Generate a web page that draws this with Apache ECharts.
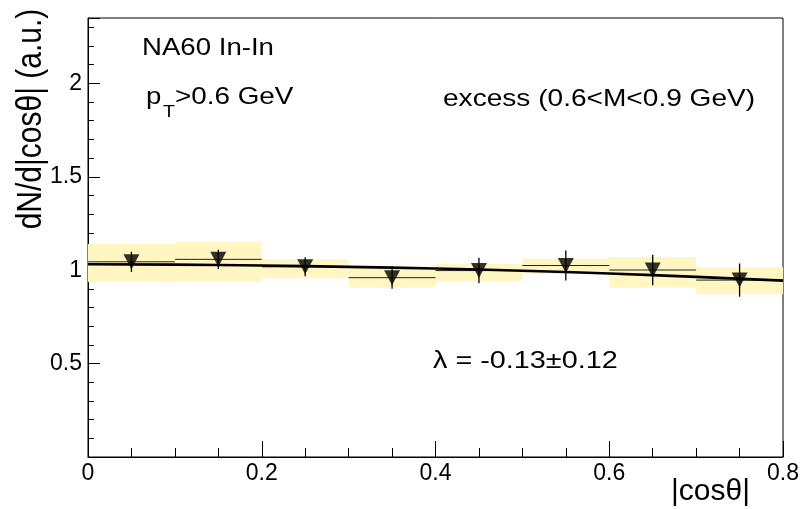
<!DOCTYPE html>
<html>
<head>
<meta charset="utf-8">
<script src="https://cdn.jsdelivr.net/npm/echarts@6/dist/echarts.min.js"></script>
<style>
  html, body { margin: 0; padding: 0; background: #fff; }
  #chart { width: 802px; height: 509px; }
</style>
</head>
<body>
<div id="chart"></div>
<script>
// ---- data ----
const binCenters = [0.05, 0.15, 0.25, 0.35, 0.45, 0.55, 0.65, 0.75];
const binHalfWidth = [0.05, 0.05, 0.05, 0.05, 0.05, 0.05, 0.05, 0.05];
const values   = [1.045, 1.058, 1.018, 0.960, 0.998, 1.025, 1.001, 0.947];
const statErr  = [0.054, 0.052, 0.051, 0.060, 0.068, 0.080, 0.082, 0.089];
const sysLow   = [0.937, 0.937, 0.957, 0.907, 0.940, 0.980, 0.907, 0.871];
const sysHigh  = [1.140, 1.152, 1.059, 1.015, 1.034, 1.061, 1.070, 1.016];
const fitX = [0, 0.1, 0.2, 0.3, 0.4, 0.5, 0.6, 0.7, 0.8];
const fitY = [1.032, 1.030, 1.025, 1.018, 1.009, 0.997, 0.982, 0.964, 0.944];
const xTicks = [0, 0.2, 0.4, 0.6, 0.8];
const yTicks = [0, 0.5, 1, 1.5, 2];

const FONT = "'Liberation Sans', Arial, sans-serif";

const chart = echarts.init(document.getElementById('chart'), null, { renderer: 'canvas' });

const boxData = binCenters.map((x, i) => [x, sysLow[i], sysHigh[i], binHalfWidth[i]]);
const errData = binCenters.map((x, i) => [x, values[i], statErr[i], binHalfWidth[i]]);
const ptData = binCenters.map((x, i) => [x, values[i]]);
const fitData = fitX.map((x, i) => [x, fitY[i]]);

const option = {
  backgroundColor: '#ffffff',
  animation: false,
  grid: {
    left: 88, right: 15, top: 18, bottom: 52,
    show: true, borderColor: '#000', borderWidth: 1, backgroundColor: '#fff'
  },
  xAxis: [{
    type: 'value', min: 0, max: 0.8, interval: 0.2, position: 'bottom',
    axisLine: { show: true, lineStyle: { color: '#000', width: 1 } },
    axisTick: { show: true, inside: true, length: 16, lineStyle: { color: '#000' } },
    minorTick: { show: true, splitNumber: 4, length: 9, lineStyle: { color: '#000' } },
    splitLine: { show: false },
    axisLabel: {
      color: '#000', fontSize: 23, fontFamily: FONT, margin: 5,
      formatter: v => { const m = xTicks.find(t => Math.abs(t - v) < 1e-9); return m === undefined ? '' : String(m); }
    }
  }],
  yAxis: [{
    type: 'value', min: 0, max: 2.35, interval: 0.5, position: 'left',
    axisLine: { show: true, lineStyle: { color: '#000', width: 1 } },
    axisTick: { show: true, inside: true, length: 12, lineStyle: { color: '#000' } },
    splitLine: { show: false },
    axisLabel: {
      color: '#000', fontSize: 23, fontFamily: FONT, margin: 6, showMinLabel: false,
      formatter: v => { const m = yTicks.find(t => Math.abs(t - v) < 1e-9); return m === undefined ? '' : String(m); }
    }
  }, {
    type: 'value', min: 0, max: 2.35, interval: 0.1, position: 'left', offset: 0,
    axisLine: { show: false },
    axisTick: { show: true, inside: true, length: 6, lineStyle: { color: '#000' } },
    splitLine: { show: false },
    axisLabel: { show: false }
  }],
  series: [
    {
      type: 'custom', name: 'sys', z: 1,
      data: boxData,
      renderItem: (params, api) => {
        const x = api.value(0), lo = api.value(1), hi = api.value(2), hw = api.value(3);
        const p1 = api.coord([x - hw, hi]);
        const p2 = api.coord([x + hw, lo]);
        return {
          type: 'rect',
          shape: { x: p1[0], y: p1[1], width: p2[0] - p1[0], height: p2[1] - p1[1] },
          style: { fill: '#fff6c2' }
        };
      }
    },
    {
      type: 'custom', name: 'err', z: 3,
      data: errData,
      renderItem: (params, api) => {
        const x = api.value(0), v = api.value(1), e = api.value(2), hw = api.value(3);
        const t = api.coord([x, v + e]), b = api.coord([x, v - e]);
        const l = api.coord([x - hw, v]), r = api.coord([x + hw, v]);
        return {
          type: 'group',
          children: [
            { type: 'line', shape: { x1: t[0], y1: t[1], x2: b[0], y2: b[1] }, style: { stroke: '#000', lineWidth: 1.3 } },
            { type: 'line', shape: { x1: l[0], y1: l[1], x2: r[0], y2: r[1] }, style: { stroke: '#222', lineWidth: 1 } }
          ]
        };
      }
    },
    {
      type: 'line', name: 'fit', z: 4,
      data: fitData, smooth: true, showSymbol: false, symbol: 'none',
      lineStyle: { color: '#000', width: 2.6 }
    },
    {
      type: 'scatter', name: 'data', z: 5,
      data: ptData, symbol: 'triangle', symbolRotate: 180, symbolSize: [16, 15],
      itemStyle: { color: '#000' }
    }
  ],
  graphic: [
    { type: 'text', x: 142, y: 48, scaleX: 1.15, style: { text: 'NA60 In-In', fontSize: 24, fontFamily: FONT, fill: '#000', align: 'left', verticalAlign: 'middle' } },
    { type: 'text', x: 146, y: 97, scaleX: 1.15, style: { text: 'p', fontSize: 24, fontFamily: FONT, fill: '#000', align: 'left', verticalAlign: 'middle' } },
    { type: 'text', x: 163, y: 112, scaleX: 1.15, style: { text: 'T', fontSize: 17, fontFamily: FONT, fill: '#000', align: 'left', verticalAlign: 'middle' } },
    { type: 'text', x: 175, y: 97, scaleX: 1.16, style: { text: '>0.6 GeV', fontSize: 24, fontFamily: FONT, fill: '#000', align: 'left', verticalAlign: 'middle' } },
    { type: 'text', x: 443, y: 99, scaleX: 1.17, style: { text: 'excess (0.6<M<0.9 GeV)', fontSize: 24, fontFamily: FONT, fill: '#000', align: 'left', verticalAlign: 'middle' } },
    { type: 'text', x: 433, y: 361, scaleX: 1.2, style: { text: 'λ = -0.13±0.12', fontSize: 24, fontFamily: FONT, fill: '#000', align: 'left', verticalAlign: 'middle' } },
    { type: 'text', x: 31, y: 119, rotation: Math.PI / 2, scaleY: 1.15, style: { text: 'dN/d|cosθ| (a.u.)', fontSize: 30, fontFamily: FONT, fill: '#000', align: 'center', verticalAlign: 'middle' } },
    { type: 'text', x: 750, y: 492, style: { text: '|cosθ|', fontSize: 30, fontFamily: FONT, fill: '#000', align: 'right', verticalAlign: 'middle' } }
  ]
};

chart.setOption(option);
</script>
</body>
</html>
